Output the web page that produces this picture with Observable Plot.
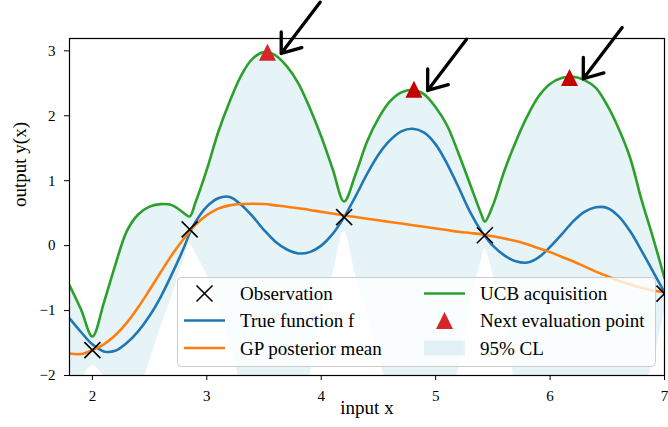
<!DOCTYPE html>
<html>
<head>
<meta charset="utf-8">
<script src="https://cdn.jsdelivr.net/npm/d3@7"></script>
<script src="https://cdn.jsdelivr.net/npm/@observablehq/plot@0.6"></script>
<style>
  html, body { margin: 0; padding: 0; background: #fff; }
  #wrap { position: relative; width: 668px; height: 427px; font-family: "Liberation Serif", "DejaVu Serif", serif; }
  #wrap svg text { font-family: "Liberation Serif", "DejaVu Serif", serif; }
  #legend { position: absolute; left: 0; top: 0; pointer-events: none; }
</style>
</head>
<body>
<div id="wrap"></div>
<script>
// ---------- data ----------
const xs = [1.8,1.9,2.0,2.1,2.2,2.3,2.4,2.5,2.6,2.7,2.8,2.85,2.9,3.0,3.1,3.2,3.3,3.4,3.5,3.6,3.7,3.8,3.9,4.0,4.1,4.2,4.3,4.4,4.5,4.6,4.7,4.8,4.9,5.0,5.1,5.2,5.3,5.4,5.43,5.5,5.6,5.7,5.8,5.9,6.0,6.1,6.2,6.3,6.4,6.5,6.6,6.7,6.8,6.9,7.0];
const trueF = [-1.12,-1.33,-1.52,-1.63,-1.62,-1.50,-1.32,-1.08,-0.78,-0.42,-0.03,0.19,0.36,0.60,0.73,0.75,0.63,0.45,0.24,0.06,-0.06,-0.12,-0.10,0.00,0.18,0.44,0.76,1.10,1.40,1.62,1.76,1.80,1.74,1.56,1.26,0.90,0.52,0.22,0.15,0.00,-0.15,-0.24,-0.26,-0.18,-0.02,0.17,0.37,0.52,0.59,0.58,0.45,0.22,-0.08,-0.40,-0.72];
const gpMean = [-1.66,-1.67,-1.61,-1.52,-1.38,-1.19,-0.95,-0.68,-0.40,-0.13,0.11,0.22,0.32,0.47,0.57,0.62,0.64,0.645,0.64,0.62,0.60,0.575,0.55,0.52,0.495,0.465,0.44,0.415,0.39,0.365,0.34,0.315,0.29,0.265,0.24,0.215,0.195,0.175,0.165,0.145,0.11,0.07,0.02,-0.04,-0.10,-0.17,-0.24,-0.32,-0.40,-0.47,-0.54,-0.60,-0.65,-0.69,-0.72];
const ucb = [-0.61,-0.98,-1.40,-0.88,-0.30,0.22,0.48,0.60,0.64,0.62,0.50,0.45,0.66,1.17,1.75,2.22,2.62,2.88,2.98,2.93,2.76,2.50,2.12,1.68,1.18,0.68,1.10,1.60,1.96,2.22,2.36,2.40,2.33,2.13,1.85,1.42,0.95,0.48,0.37,0.62,1.15,1.60,1.99,2.30,2.49,2.58,2.60,2.55,2.43,2.16,1.80,1.35,0.70,0.12,-0.50];
const lowerCL = [-3.1,-2.12,-1.85,-2.02,-2.9,-3.0,-2.35,-1.78,-1.25,-0.75,-0.22,0.03,-0.12,-0.45,-0.95,-1.52,-2.15,-2.8,-3.2,-3.2,-3.0,-2.6,-2.0,-1.07,-0.45,0.22,-0.45,-1.07,-1.7,-2.3,-2.8,-3.0,-3.0,-2.9,-2.6,-1.9,-0.95,-0.22,-0.05,-0.42,-1.07,-2.2,-2.9,-3.4,-3.7,-3.8,-3.8,-3.6,-3.4,-3.1,-2.8,-2.5,-2.3,-1.8,-1.0];
const obsX = [2.0, 2.85, 4.2, 5.43, 7.0];
const obsY = [-1.61, 0.25, 0.44, 0.16, -0.74];
const nextX = [3.53, 4.81, 6.17];
const nextY = [2.98, 2.41, 2.59];
const xTicks = [2, 3, 4, 5, 6, 7];
const yTicks = [-2, -1, 0, 1, 2, 3];
const legendLabels = ["Observation", "True function f", "GP posterior mean", "UCB acquisition", "Next evaluation point", "95% CL"];

// ---------- tables ----------
const curve = xs.map((x, i) => ({x, f: trueF[i], mean: gpMean[i], ucb: ucb[i], lo: lowerCL[i]}));
const obs = obsX.map((x, i) => ({x, y: obsY[i]}));
const nxt = nextX.map((x, i) => ({x, y: nextY[i]}));

// custom matplotlib-like markers
const triUp = {draw(ctx, size) { const s = Math.sqrt(size / Math.PI); ctx.moveTo(0, -s); ctx.lineTo(s, s); ctx.lineTo(-s, s); ctx.closePath(); }};
const cross = {draw(ctx, size) { const s = Math.sqrt(size / Math.PI); ctx.moveTo(-s, -s); ctx.lineTo(s, s); ctx.moveTo(-s, s); ctx.lineTo(s, -s); }};

const C = {blue: "#1f77b4", orange: "#ff7f0e", green: "#2ca02c", red: "#d62728", band: "#add8e6"};
const LW = 2.6;
const SERIF = "'Liberation Serif', 'DejaVu Serif', serif";
const fmt = d3.format("d");

const chart = Plot.plot({
  width: 668,
  height: 427,
  marginLeft: 69,
  marginRight: 4,
  marginTop: 38,
  marginBottom: 52,
  style: {fontFamily: SERIF, fontSize: "15px", color: "black", background: "white", overflow: "visible"},
  x: {domain: [1.8, 7]},
  y: {domain: [-2, 3.19]},
  marks: [
    Plot.areaY(curve, {x: "x", y1: "lo", y2: "ucb", curve: "catmull-rom", fill: C.band, fillOpacity: 0.3, clip: true}),
    Plot.line(curve, {x: "x", y: "f", curve: "catmull-rom", stroke: C.blue, strokeWidth: LW, clip: true}),
    Plot.line(curve, {x: "x", y: "mean", curve: "catmull-rom", stroke: C.orange, strokeWidth: LW, clip: true}),
    Plot.line(curve, {x: "x", y: "ucb", curve: "catmull-rom", stroke: C.green, strokeWidth: LW, clip: true}),
    Plot.dot(obs, {x: "x", y: "y", symbol: cross, r: 8, stroke: "black", fill: "none", strokeWidth: 1.6, clip: true}),
    Plot.dot(nxt, {x: "x", y: "y", symbol: triUp, r: 8.5, fill: (d, i) => i === 0 ? "#d62728" : "#c40000", stroke: "none"}),
    Plot.arrow(nxt, {
      x1: d => d.x + 0.46, y1: d => d.y + 0.77,
      x2: d => d.x + 0.12, y2: d => d.y - 0.02,
      stroke: "black", strokeWidth: 3.3, headLength: 11, headAngle: 74,
      strokeLinecap: "round", strokeLinejoin: "round"
    }),
    Plot.frame({stroke: "black", strokeWidth: 1.2}),
    Plot.axisX({ticks: xTicks, tickFormat: fmt, tickSize: 5, tickPadding: 10, label: null, fontSize: 15, fontFamily: SERIF}),
    Plot.axisY({ticks: yTicks, tickFormat: fmt, tickSize: 5, tickPadding: 9, label: null, fontSize: 15, fontFamily: SERIF}),
    Plot.text(["input x"], {text: d => d, frameAnchor: "bottom", dy: 38, fontSize: 19, fontFamily: SERIF}),
    Plot.text(["output y(x)"], {text: d => d, frameAnchor: "left", dx: -50, rotate: -90, fontSize: 19, fontFamily: SERIF})
  ]
});

const wrap = document.getElementById("wrap");
wrap.appendChild(chart);

// ---------- legend overlay (inside the axes, like matplotlib's) ----------
const L = {left: 177, top: 277, w: 478, h: 89};
const ns = "http://www.w3.org/2000/svg";
const lg = d3.create("svg").attr("id", "legend").attr("width", 668).attr("height", 427)
  .attr("xmlns", ns).style("font-family", SERIF);
const g = lg.append("g").attr("transform", `translate(${L.left},${L.top})`);
g.append("rect").attr("x", 0.5).attr("y", 0.5).attr("width", L.w).attr("height", L.h).attr("rx", 4)
  .attr("fill", "white").attr("fill-opacity", 0.8).attr("stroke", "#cccccc").attr("stroke-width", 1);
const rows = [16.5, 43.5, 71];
const col = [{h0: 7, h1: 48, t: 63}, {h0: 247, h1: 288, t: 303}];
const handles = [
  (sel, c, y) => { const cx = (c.h0 + c.h1) / 2; sel.append("path").attr("d", `M${cx-8},${y-8}L${cx+8},${y+8}M${cx-8},${y+8}L${cx+8},${y-8}`).attr("stroke", "black").attr("stroke-width", 1.6).attr("fill", "none"); },
  (sel, c, y) => sel.append("line").attr("x1", c.h0).attr("x2", c.h1).attr("y1", y).attr("y2", y).attr("stroke", C.blue).attr("stroke-width", LW),
  (sel, c, y) => sel.append("line").attr("x1", c.h0).attr("x2", c.h1).attr("y1", y).attr("y2", y).attr("stroke", C.orange).attr("stroke-width", LW),
  (sel, c, y) => sel.append("line").attr("x1", c.h0).attr("x2", c.h1).attr("y1", y).attr("y2", y).attr("stroke", C.green).attr("stroke-width", LW),
  (sel, c, y) => { const cx = (c.h0 + c.h1) / 2; sel.append("path").attr("d", `M${cx},${y-8.5}L${cx+8.5},${y+8.5}L${cx-8.5},${y+8.5}Z`).attr("fill", C.red); },
  (sel, c, y) => sel.append("rect").attr("x", c.h0).attr("y", y - 7.5).attr("width", c.h1 - c.h0).attr("height", 15).attr("fill", C.band).attr("fill-opacity", 0.3)
];
legendLabels.forEach((label, i) => {
  const c = col[Math.floor(i / 3)], y = rows[i % 3];
  handles[i](g, c, y);
  g.append("text").attr("x", c.t).attr("y", y).attr("dy", "0.35em").attr("font-size", 19).attr("fill", "black").text(label);
});
wrap.appendChild(lg.node());
</script>
</body>
</html>
